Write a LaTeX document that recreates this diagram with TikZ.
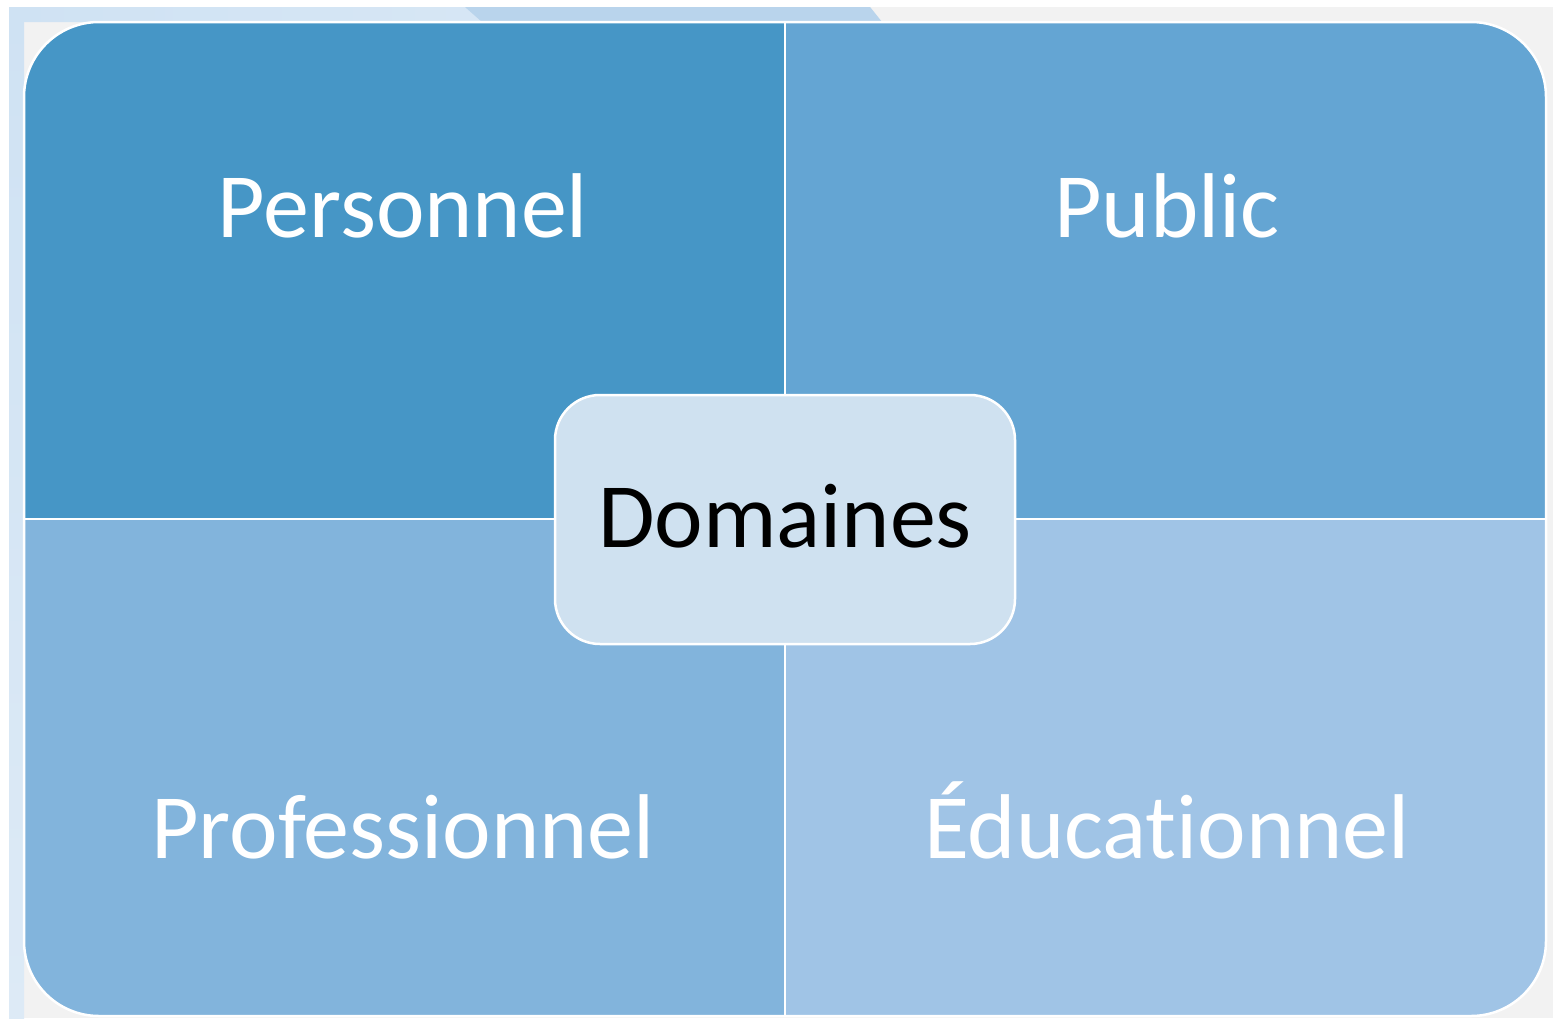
\documentclass[tikz,border=0pt]{standalone}
\usepackage{fontspec}
\setmainfont[Ligatures=NoCommon]{Carlito}
\definecolor{bggray}{HTML}{F2F2F2}
\definecolor{bandA}{HTML}{CFE2F3}
\definecolor{bandB}{HTML}{DDEAF6}
\definecolor{bandC}{HTML}{B9D4EC}
\definecolor{qTL}{HTML}{4696C6}
\definecolor{qTR}{HTML}{64A5D3}
\definecolor{qBL}{HTML}{82B4DC}
\definecolor{qBR}{HTML}{A0C4E6}
\definecolor{centerfill}{HTML}{CFE1F0}
\tikzset{
  quadlabel/.style={text=white, font=\fontsize{92}{100}\selectfont, anchor=base, inner sep=0pt},
  centerbox/.style={draw=white, line width=2.5pt, fill=centerfill, rounded corners=45pt,
    minimum width=460pt, minimum height=249pt, inner sep=0pt},
  divider/.style={draw=white, line width=2pt}
}
\begin{document}
\begin{tikzpicture}[x=1pt,y=-1pt]
\useasboundingbox (0,0) rectangle (1553,1018);
\fill[white] (0,0) rectangle (1553,1018);
% slide background
\fill[bggray] (9,7) rectangle (1553,1018);
\shade[top color=bandA, bottom color=bandB] (9,7) rectangle (24,1018);
\shade[left color=bandA, right color=bandB] (9,7) -- (870,7) -- (882,22) -- (9,22) -- cycle;
\fill[bandC] (465,7) -- (870,7) -- (882,22) -- (482,22) -- cycle;
% quadrants
\begin{scope}
\clip[rounded corners=75pt] (24,22) rectangle (1546,1016);
\fill[qTL] (24,22) rectangle (785,519);
\fill[qTR] (785,22) rectangle (1546,519);
\fill[qBL] (24,519) rectangle (785,1016);
\fill[qBR] (785,519) rectangle (1546,1016);
\end{scope}
\draw[white, line width=2.5pt, rounded corners=75pt] (24,22) rectangle (1546,1016);
\coordinate (vt) at (785,22);
\coordinate (vb) at (785,1016);
\coordinate (hl) at (24,519);
\coordinate (hr) at (1546,519);
\draw[divider] (vt) -- (vb);
\draw[divider] (hl) -- (hr);
% labels
\node[quadlabel] (pers) at (403,237) {Personnel};
\node[quadlabel] (pub) at (1167,237) {Public};
\node[quadlabel] (prof) at (403,858) {Professionnel};
\node[quadlabel] (educ) at (1167,858) {Éducationnel};
% center
\node[centerbox] (dom) at (785,519.5) {};
\node[anchor=base, inner sep=0pt, font=\fontsize{92}{100}\selectfont, text=black] (domt) at (785,547) {Domaines};
\end{tikzpicture}
\end{document}
